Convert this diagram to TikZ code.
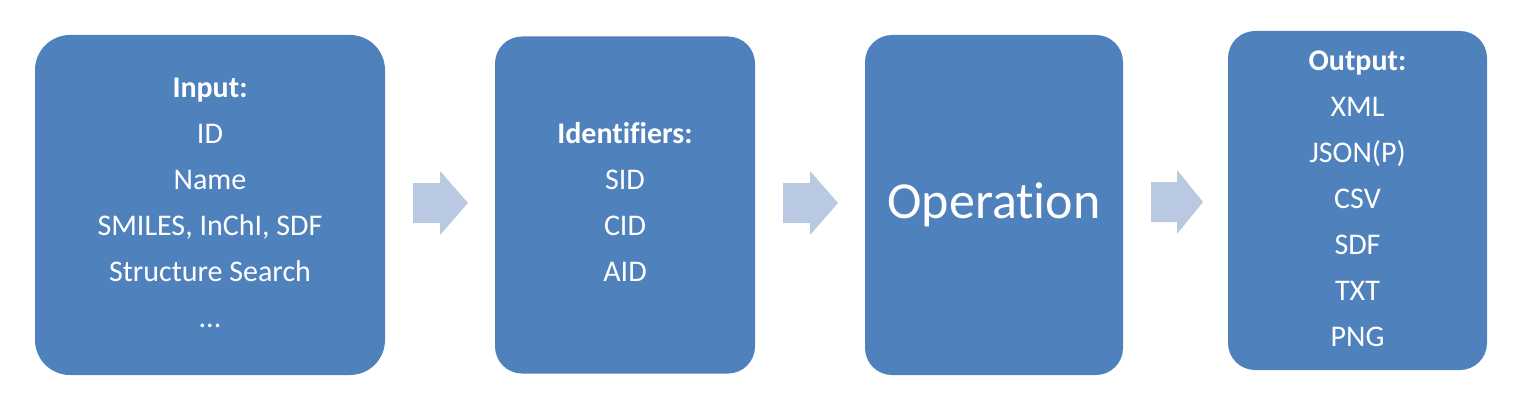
\documentclass[tikz,border=0pt]{standalone}
\usepackage{fontspec}
\setmainfont{Carlito}[Ligatures=NoCommon]
\definecolor{boxblue}{HTML}{4F81BD}
\definecolor{arrowblue}{HTML}{B9C9E2}
\begin{document}
\begin{tikzpicture}[x=1pt,y=-1pt,
  box/.style={fill=boxblue,draw=none,text=white,align=center,inner sep=0pt,
    font=\fontsize{30}{46}\selectfont},
  blockarrow/.style={fill=arrowblue,draw=none}]
\useasboundingbox (0,0) rectangle (1514,404);
\node[box,minimum width=350pt,minimum height=340pt,rounded corners=35pt] (input) at (210,205) {};
\node[box,align=center] (inputtext) at (210,203)
  {\textbf{Input:}\\ID\\Name\\SMILES, InChI, SDF\\Structure Search\\...};
\node[box,minimum width=260pt,minimum height=337pt,rounded corners=27pt] (ident) at (625,205) {};
\node[box] (identtext) at (625,202) {\textbf{Identifiers:}\\SID\\CID\\AID};
\node[box,minimum width=258pt,minimum height=340pt,rounded corners=27pt,
  font=\fontsize{52}{60}\selectfont] (oper) at (994,205) {Operation};
\node[box,minimum width=259pt,minimum height=339pt,rounded corners=27pt] (output) at (1357.5,200.5) {};
\node[box] (outputtext) at (1357.5,198.5) {\textbf{Output:}\\XML\\JSON(P)\\CSV\\SDF\\TXT\\PNG};
\fill[blockarrow] (413,183) -- (440,183) -- (440,171) -- (468,203) -- (440,235) -- (440,223) -- (413,223) -- cycle;
\fill[blockarrow] (783,183) -- (810,183) -- (810,171) -- (838,203) -- (810,235) -- (810,223) -- (783,223) -- cycle;
\fill[blockarrow] (1151,182) -- (1177,182) -- (1177,170) -- (1203,202) -- (1177,234) -- (1177,222) -- (1151,222) -- cycle;
\end{tikzpicture}
\end{document}
